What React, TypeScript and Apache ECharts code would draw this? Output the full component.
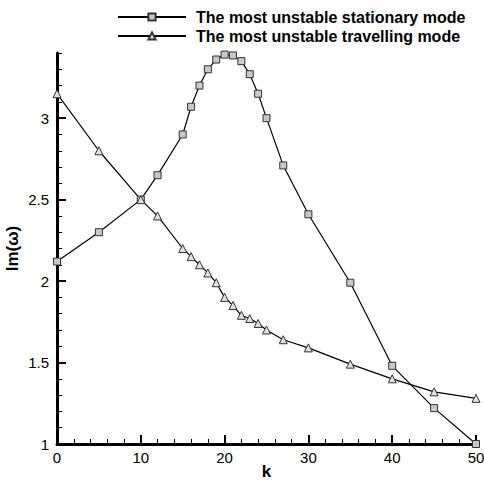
import React, { useEffect, useRef } from "react";
import * as echarts from "echarts";

const kStationary = [0, 5, 10, 12, 15, 16, 17, 18, 19, 20, 21, 22, 23, 24, 25, 27, 30, 35, 40, 45, 50];
const imStationary = [2.12, 2.3, 2.5, 2.65, 2.9, 3.07, 3.2, 3.3, 3.36, 3.39, 3.385, 3.35, 3.27, 3.15, 3.0, 2.71, 2.41, 1.99, 1.48, 1.22, 1.0];
const kTravelling = [0, 5, 10, 12, 15, 16, 17, 18, 19, 20, 21, 22, 23, 24, 25, 27, 30, 35, 40, 45, 50];
const imTravelling = [3.15, 2.8, 2.5, 2.4, 2.2, 2.15, 2.1, 2.05, 1.99, 1.9, 1.85, 1.79, 1.77, 1.74, 1.7, 1.64, 1.59, 1.49, 1.4, 1.32, 1.28];
const seriesNames = ["The most unstable stationary mode", "The most unstable travelling mode"];

const FONT = "Liberation Sans";

export default function App() {
  const ref = useRef<HTMLDivElement>(null);
  useEffect(() => {
    if (!ref.current) return;
    const chart = echarts.init(ref.current, null, { renderer: "svg" });
    const stat = kStationary.map((k, i) => [k, imStationary[i]]);
    const trav = kTravelling.map((k, i) => [k, imTravelling[i]]);
    chart.setOption({
      animation: false,
      backgroundColor: "#fff",
      textStyle: { fontFamily: FONT },
      grid: { left: 57, right: 8, top: 53, bottom: 36, containLabel: false, outerBoundsMode: "none" },
      legend: {
        orient: "vertical",
        left: 112,
        top: 4,
        itemWidth: 68,
        itemHeight: 9,
        itemGap: 3,
        textStyle: { fontFamily: FONT, fontWeight: "bold", fontSize: 16, color: "#000", padding: [0, 0, 0, 5] },
        data: seriesNames,
      },
      xAxis: [
        {
          type: "value",
          min: 0,
          max: 50,
          interval: 10,
          name: "k",
          nameLocation: "middle",
          nameGap: 19,
          nameMoveOverlap: false,
          nameTextStyle: { fontFamily: FONT, fontWeight: "bold", fontSize: 17, color: "#000", verticalAlign: "top" },
          axisLine: { show: true, lineStyle: { color: "#000", width: 3 } },
          axisTick: { show: true, inside: true, length: 9, lineStyle: { color: "#000", width: 2 } },
          axisLabel: { color: "#000", fontSize: 15, margin: 6, fontFamily: FONT },
          splitLine: { show: false },
        },
        {
          type: "value",
          position: "bottom",
          min: 0,
          max: 50,
          interval: 2,
          axisLine: { show: false },
          axisTick: { show: true, inside: true, length: 5, lineStyle: { color: "#000", width: 1 } },
          axisLabel: { show: false },
          splitLine: { show: false },
        },
      ],
      yAxis: [
        {
          type: "value",
          min: 1,
          max: 3.4,
          interval: 0.5,
          name: "Im(ω)",
          nameLocation: "middle",
          nameRotate: 90,
          nameGap: 36,
          nameMoveOverlap: false,
          nameTextStyle: { fontFamily: FONT, fontWeight: "bold", fontSize: 17, color: "#000" },
          axisLine: { show: true, lineStyle: { color: "#000", width: 3 } },
          axisTick: { show: true, inside: true, length: 9, lineStyle: { color: "#000", width: 2 } },
          axisLabel: { color: "#000", fontSize: 15, margin: 8, fontFamily: FONT, showMaxLabel: false },
          splitLine: { show: false },
        },
        {
          type: "value",
          position: "left",
          min: 1,
          max: 3.4,
          interval: 0.1,
          axisLine: { show: false },
          axisTick: { show: true, inside: true, length: 5, lineStyle: { color: "#000", width: 1 } },
          axisLabel: { show: false },
          splitLine: { show: false },
        },
      ],
      series: [
        {
          name: seriesNames[0],
          type: "line",
          data: stat,
          symbol: "rect",
          symbolSize: 7,
          lineStyle: { color: "#000", width: 1.2 },
          itemStyle: { color: "#c8c8c8", borderColor: "#333", borderWidth: 1 },
        },
        {
          name: seriesNames[1],
          type: "line",
          data: trav,
          symbol: "triangle",
          symbolSize: 8,
          lineStyle: { color: "#000", width: 1.2 },
          itemStyle: { color: "#e0e0e0", borderColor: "#333", borderWidth: 1 },
        },
      ],
    });
    return () => chart.dispose();
  }, []);
  return <div ref={ref} style={{ position: "fixed", left: 0, top: 0, width: 484, height: 480 }} />;
}
